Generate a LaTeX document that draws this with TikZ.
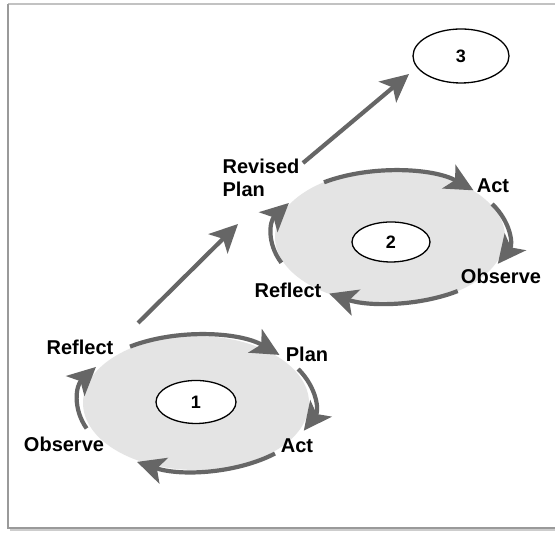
\documentclass[tikz,border=0pt]{standalone}
\usepackage{fontspec}
\setmainfont{Liberation Sans}
\usetikzlibrary{arrows.meta,calc,shapes.geometric}

\definecolor{arrowgray}{HTML}{666666}
\definecolor{cyclefill}{HTML}{E4E4E4}
\definecolor{framegray}{HTML}{9A9A9A}

\tikzset{
  flow/.style={line width=4.2pt, color=arrowgray,
    -{Stealth[length=28pt, width=27pt, inset=7pt]}},
  cyclebg/.style={fill=cyclefill, draw=none, ellipse, minimum width=226pt, minimum height=134pt},
  stage/.style={draw=black, line width=1.3pt, fill=white, ellipse, minimum width=80pt, minimum height=43pt,
    inner sep=0pt, font=\bfseries\fontsize{18}{18}\selectfont},
  lbl/.style={font=\bfseries\fontsize{20}{23}\selectfont, inner sep=1pt}
}

\begin{document}
\begin{tikzpicture}[x=1pt,y=1pt]
  \useasboundingbox (0,0) rectangle (555,534);
  \fill[white] (0,0) rectangle (555,534);

  % page frame with a soft shadow at the bottom
  \draw[framegray!60, line width=1.5pt] (8,530) -- (560,530);
  \draw[framegray, line width=2.5pt] (8,530) -- (8,6) -- (560,6);
  \draw[framegray!50, line width=2pt] (10,3.5) -- (560,3.5);

  % first cycle
  \coordinate (c1) at (196,131);
  \node[cyclebg] (bg1) at (c1) {};
  \node[stage] (s1) at (196,132) {1};
  \draw[flow] ($(c1)+(124:118pt and 68pt)$) arc[start angle=124, end angle=45, x radius=118pt, y radius=68pt];
  \draw[flow] ($(c1)+(30:118pt and 68pt)$) arc[start angle=30, end angle=-24, x radius=118pt, y radius=68pt];
  \draw[flow] ($(c1)+(-48:118pt and 68pt)$) arc[start angle=-48, end angle=-120, x radius=118pt, y radius=68pt];
  \draw[flow] ($(c1)+(202:118pt and 68pt)$) arc[start angle=202, end angle=148, x radius=118pt, y radius=68pt];
  \node[lbl] (r1) at (80,187) {Reflect};
  \node[lbl] (p1) at (307,180) {Plan};
  \node[lbl] (o1) at (64,90) {Observe};
  \node[lbl] (a1) at (297,88) {Act};

  % second cycle
  \coordinate (c2) at (390,297);
  \node[cyclebg, minimum width=230pt, minimum height=134pt] (bg2) at (c2) {};
  \node[stage, minimum width=78pt, minimum height=40pt] (s2) at (391,292) {2};
  \draw[flow] ($(c2)+(124:118pt and 66pt)$) arc[start angle=124, end angle=45, x radius=118pt, y radius=66pt];
  \draw[flow] ($(c2)+(30:118pt and 66pt)$) arc[start angle=30, end angle=-24, x radius=118pt, y radius=66pt];
  \draw[flow] ($(c2)+(-55:118pt and 66pt)$) arc[start angle=-55, end angle=-121, x radius=118pt, y radius=66pt];
  \draw[flow] ($(c2)+(203:118pt and 66pt)$) arc[start angle=203, end angle=149, x radius=118pt, y radius=66pt];
  \node[lbl, align=left] (rp) at (261,356) {Revised\\Plan};
  \node[lbl] (a2) at (493,348) {Act};
  \node[lbl] (o2) at (501,258) {Observe};
  \node[lbl] (r2) at (288,244) {Reflect};

  % next stage
  \node[stage, minimum width=96pt, minimum height=54pt] (s3) at (461,478) {3};

  % links between the cycles
  \coordinate (up1) at (138,211);
  \coordinate (to2) at (238,310);
  \coordinate (up2) at (303,371);
  \coordinate (to3) at (409,460);
  \draw[flow] (up1) -- (to2);
  \draw[flow] (up2) -- (to3);
\end{tikzpicture}
\end{document}
